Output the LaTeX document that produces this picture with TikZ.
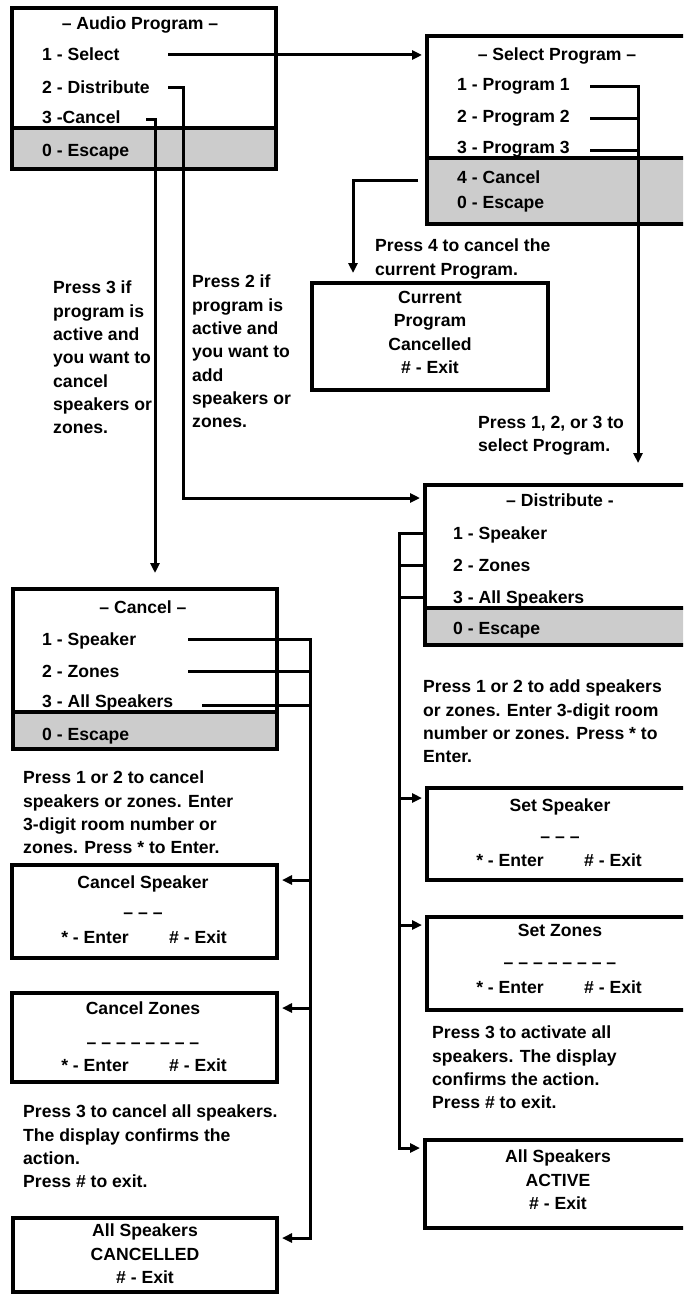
\documentclass[tikz,border=0pt]{standalone}
\usepackage{fontspec}
\setmainfont{Liberation Sans}
\usetikzlibrary{arrows.meta}
\newcommand\myfnt{\fontsize{17.6pt}{23.3pt}\selectfont\bfseries}
\begin{document}
\begin{tikzpicture}[x=1pt,y=-1pt,
 box/.style={draw, line width=3.2pt, inner sep=0, outer sep=0, anchor=north west},
 shd/.style={fill=black!20},
 divl/.style={line width=3.2pt},
 txt/.style={inner sep=0, anchor=base west, font=\myfnt},
 ctr/.style={inner sep=0, anchor=base, font=\myfnt},
 para/.style={inner sep=0, anchor=north west, align=left, font=\myfnt},
 cpara/.style={inner sep=0, anchor=north, align=center, font=\myfnt},
 wire/.style={draw, line width=3pt},
 tip/.style={-{Triangle[length=10pt,width=9pt]}, shorten >=5pt},
]
\useasboundingbox (0,0) rectangle (683,1297);
\clip (0,0) rectangle (683,1297);
\fill[white] (0,0) rectangle (683,1297);

% shaded escape areas
\fill[shd] (12,128) rectangle (276,169);
\fill[shd] (427,158) rectangle (700,224);
\fill[shd] (425,608) rectangle (700,645);
\fill[shd] (13,712) rectangle (277,749);

% boxes
\node[box, minimum width=264pt, minimum height=161pt] (audio) at (12,8) {};
\node[box, minimum width=273pt, minimum height=188pt] (spbox) at (427,36) {};
\node[box, minimum width=236pt, minimum height=107pt] (cur) at (312,283) {};
\node[box, minimum width=275pt, minimum height=160pt] (dist) at (425,485) {};
\node[box, minimum width=273pt, minimum height=92pt] (setsp) at (427,788) {};
\node[box, minimum width=273pt, minimum height=93pt] (setzn) at (427,917) {};
\node[box, minimum width=275pt, minimum height=88pt] (act) at (425,1140) {};
\node[box, minimum width=264pt, minimum height=160pt] (canc) at (13,589) {};
\node[box, minimum width=265pt, minimum height=93pt] (cansp) at (12,865) {};
\node[box, minimum width=265pt, minimum height=89pt] (canzn) at (12,993) {};
\node[box, minimum width=264pt, minimum height=74pt] (cball) at (13,1218) {};

% dividers
\draw[divl] (12,128) -- (276,128);
\draw[divl] (427,158) -- (700,158);
\draw[divl] (425,608) -- (700,608);
\draw[divl] (13,712) -- (277,712);

% Audio Program
\node[ctr] (aT) at (140,30) {– Audio Program –};
\node[txt] (a1) at (42,61) {1 - Select};
\node[txt] (a2) at (42,94) {2 - Distribute};
\node[txt] (a3) at (42,124) {3 -Cancel};
\node[txt] (a0) at (42,157) {0 - Escape};

% Select Program
\node[ctr] (sT) at (557,61) {– Select Program –};
\node[txt] (s1) at (457,91) {1 - Program 1};
\node[txt] (s2) at (457,123) {2 - Program 2};
\node[txt] (s3) at (457,154) {3 - Program 3};
\node[txt] (s4) at (457,184) {4 - Cancel};
\node[txt] (s0) at (457,209) {0 - Escape};

\node[para] (p4) at (375,239) {Press 4 to cancel the\\current Program.};
\node[cpara] (curT) at (430,291) {Current\\Program\\Cancelled\\\# - Exit};

\node[para] (p3if) at (53,281) {Press 3 if\\program is\\active and\\you want to\\cancel\\speakers or\\zones.};
\node[para] (p2if) at (192,275) {Press 2 if\\program is\\active and\\you want to\\add\\speakers or\\zones.};

\node[para] (p123) at (478,416) {Press 1, 2, or 3 to\\select Program.};

% Distribute
\node[ctr] (dT) at (560,506) {– Distribute -};
\node[txt] (d1) at (453,539) {1 - Speaker};
\node[txt] (d2) at (453,571) {2 - Zones};
\node[txt] (d3) at (453,603) {3 - All Speakers};
\node[txt] (d0) at (453,634) {0 - Escape};

\node[para] (padd) at (423,680) {Press 1 or 2 to add speakers\\or zones. Enter 3-digit room\\number or zones. Press * to\\Enter.};

\node[ctr] (ssT) at (560,811) {Set Speaker};
\node[ctr] (ssD) at (560,842) {– – –};
\node[ctr] (ssE) at (510,866) {* - Enter};
\node[ctr] (ssX) at (613,866) {\# - Exit};

\node[ctr] (szT) at (560,936) {Set Zones};
\node[ctr] (szD) at (560,968) {– – – – – – – –};
\node[ctr] (szE) at (510,993) {* - Enter};
\node[ctr] (szX) at (613,993) {\# - Exit};

\node[para] (pact) at (432,1026) {Press 3 to activate all\\speakers. The display\\confirms the action.\\Press \# to exit.};
\node[cpara] (actT) at (558,1150) {All Speakers\\ACTIVE\\\# - Exit};

% Cancel
\node[ctr] (cT) at (143,613) {– Cancel –};
\node[txt] (c1) at (42,645) {1 - Speaker};
\node[txt] (c2) at (42,677) {2 - Zones};
\node[txt] (c3) at (42,707) {3 - All Speakers};
\node[txt] (c0) at (42,740) {0 - Escape};

\node[para] (pcan) at (23,771) {Press 1 or 2 to cancel\\speakers or zones. Enter\\3-digit room number or\\zones. Press * to Enter.};

\node[ctr] (csT) at (143,888) {Cancel Speaker};
\node[ctr] (csD) at (143,918) {– – –};
\node[ctr] (csE) at (95,943) {* - Enter};
\node[ctr] (csX) at (198,943) {\# - Exit};

\node[ctr] (czT) at (143,1014) {Cancel Zones};
\node[ctr] (czD) at (143,1048) {– – – – – – – –};
\node[ctr] (czE) at (95,1071) {* - Enter};
\node[ctr] (czX) at (198,1071) {\# - Exit};

\node[para] (pcall) at (23,1105) {Press 3 to cancel all speakers.\\The display confirms the\\action.\\Press \# to exit.};
\node[cpara] (cbT) at (145,1224) {All Speakers\\CANCELLED\\\# - Exit};

% connector coordinates
\coordinate (q1) at (168,55);
\coordinate (q2) at (168,88);
\coordinate (q2a) at (183,88);
\coordinate (q2b) at (183,498);
\coordinate (q3) at (146,120);
\coordinate (q3a) at (155,120);
\coordinate (r1) at (590,87);
\coordinate (r2) at (590,119);
\coordinate (r3) at (590,151);
\coordinate (rv) at (638,87);
\coordinate (r4) at (418,181);
\coordinate (r4a) at (353,181);
\coordinate (dv1) at (399,533);
\coordinate (dv2) at (399,565);
\coordinate (dv3) at (399,597);
\coordinate (dvs) at (399,798);
\coordinate (dvz) at (399,925);
\coordinate (dvb) at (399,1148);
\coordinate (k1) at (188,639);
\coordinate (k2) at (188,671);
\coordinate (k3) at (202,705);
\coordinate (kv1) at (310,639);
\coordinate (kvs) at (310,880);
\coordinate (kvz) at (310,1008);
\coordinate (kvb) at (310,1238);

% connectors
\path[wire,tip] (q1) -- (q1 -| spbox.west);
\path[wire,tip] (q2) -- (q2a) -- (q2b) -- (q2b -| dist.west);
\path[wire,tip,shorten >=16pt] (q3) -- (q3a) -- (q3a |- canc.north);
\path[wire] (r2) -- (rv |- r2);
\path[wire] (r3) -- (rv |- r3);
\path[wire,tip,shorten >=22pt] (r1) -- (rv) -- (rv |- dist.north);
\path[wire,tip,shorten >=10pt] (r4) -- (r4a) -- (r4a |- cur.north);

\path[wire] (dist.west |- dv2) -- (dv2);
\path[wire] (dist.west |- dv3) -- (dv3);
\path[wire,tip] (dist.west |- dv1) -- (dv1) -- (dvb) -- (dvb -| act.west);
\path[wire,tip] (dvs) -- (dvs -| setsp.west);
\path[wire,tip] (dvz) -- (dvz -| setzn.west);

\path[wire] (k2) -- (kv1 |- k2);
\path[wire] (k3) -- (kv1 |- k3);
\path[wire,tip] (k1) -- (kv1) -- (kvb) -- (kvb -| cball.east);
\path[wire,tip] (kvs) -- (kvs -| cansp.east);
\path[wire,tip] (kvz) -- (kvz -| canzn.east);
\end{tikzpicture}
\end{document}
